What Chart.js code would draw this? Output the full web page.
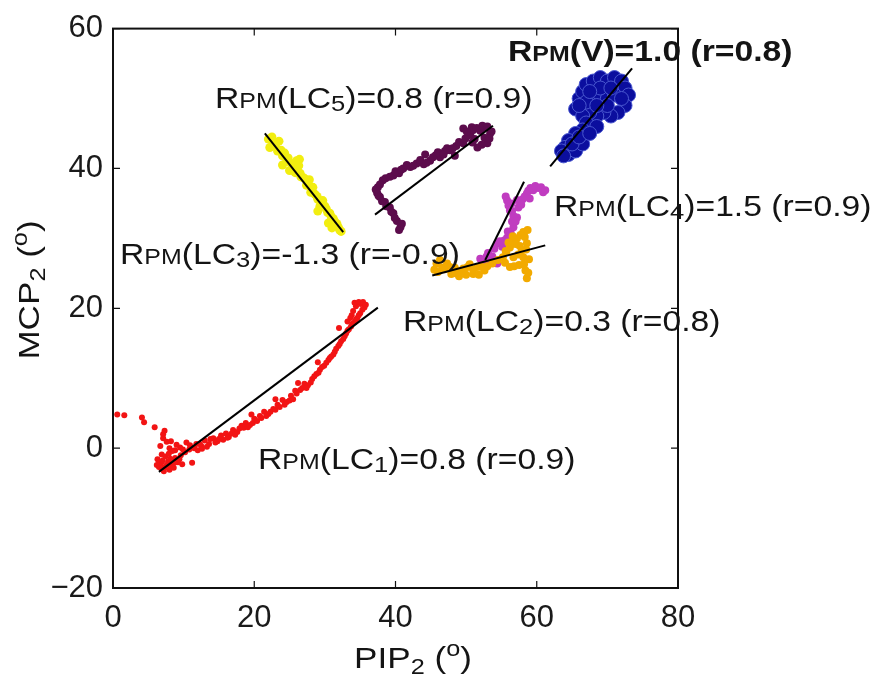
<!DOCTYPE html>
<html>
<head>
<meta charset="utf-8">
<script src="https://cdn.jsdelivr.net/npm/chart.js@4.4.0/dist/chart.umd.min.js"></script>
<style>
  html, body { margin: 0; padding: 0; background: #fff; }
  canvas { display: block; }
</style>
</head>
<body>
<canvas id="chart" width="892" height="679"></canvas>
<script>
// --- Data, PIP2 (x) vs MCP2 (y), degrees ---
const xTicks = [0, 20, 40, 60, 80];
const yTicks = [-20, 0, 20, 40, 60];

const lc1Points = [
  [0.6, 4.8], [1.6, 4.7], [4.1, 4.4], [4.4, 3.7], [5.9, 3.0], [7.1, 2.0], [7.1, 1.4], [8.2, 1.0],
  [6.7, 0.3], [8.0, 0.0], [8.8, -0.3], [6.9, -0.9], [9.5, 0.1], [6.3, -1.6], [6.8, -2.2], [7.3, -2.8],
  [6.5, -2.7], [7.8, -1.9], [8.3, -2.4], [8.8, -1.4], [7.4, -1.2], [9.2, -2.0], [6.9, -3.0], [8.0, -3.1],
  [8.6, -2.8], [9.6, -1.0], [10.9, 0.4], [12.0, -0.3], [11.2, -2.1], [12.5, 0.3], [13.0, 1.1], [13.6, 0.6],
  [14.2, 1.4], [14.8, 1.0], [15.3, 1.8], [16.0, 2.1], [16.4, 1.6], [17.0, 2.6], [17.6, 2.3], [18.2, 3.2],
  [18.8, 3.6], [19.4, 3.3], [20.0, 4.2], [20.8, 4.6], [21.4, 5.2], [22.0, 4.9], [22.7, 5.6], [23.3, 6.2],
  [24.0, 6.9], [24.6, 6.6], [25.2, 7.5], [25.8, 8.2], [26.5, 8.3], [27.1, 9.2], [27.6, 9.0], [28.2, 9.9],
  [28.8, 10.6], [29.3, 11.2], [29.9, 11.8], [30.5, 12.6], [30.9, 13.1], [31.4, 13.8], [31.9, 14.6], [32.3, 15.3],
  [32.8, 16.0], [33.2, 16.8], [33.7, 17.4], [34.2, 18.0], [34.6, 18.6], [35.0, 19.3], [34.0, 19.6], [34.4, 20.3],
  [35.1, 20.6], [35.6, 20.1], [33.8, 19.0], [32.0, 17.2], [29.0, 12.3], [26.2, 9.3], [23.0, 7.0], [19.6, 4.8],
  [10.2, -0.6], [10.8, -0.2], [11.5, 0.0], [11.8, 0.6], [12.6, -0.1], [13.3, 0.2], [13.8, 1.3], [14.5, 0.8],
  [15.0, 1.3], [15.6, 1.2], [16.2, 1.5], [16.8, 2.1], [17.3, 1.9], [17.9, 2.8], [18.5, 2.9], [19.1, 3.0],
  [19.8, 3.6], [20.4, 3.9], [21.0, 4.3], [21.7, 4.6], [22.3, 5.2], [23.0, 5.5], [23.6, 5.9], [24.3, 6.2],
  [25.0, 6.8], [25.5, 7.0], [26.0, 7.8], [26.8, 8.6], [27.4, 8.6], [28.0, 9.4], [28.5, 10.3], [29.1, 10.8],
  [29.6, 11.6], [30.2, 12.2], [30.7, 12.9], [31.2, 13.4], [31.6, 14.2], [32.1, 14.9], [32.6, 15.6], [33.0, 16.4],
  [33.4, 17.0], [33.9, 17.8], [34.4, 18.4], [34.8, 19.0], [35.3, 19.8], [34.2, 20.8], [34.8, 20.9], [35.4, 20.9],
  [35.8, 20.5], [33.6, 18.6], [33.2, 18.1], [6.6, -2.0], [7.0, -1.8], [7.6, -2.4], [8.1, -1.5], [8.7, -2.1],
  [9.4, -1.6], [9.8, -2.3], [7.2, -3.3], [6.2, -2.4], [7.9, -0.8], [8.4, -0.4], [9.0, 0.5], [7.6, 0.9],
  [7.3, 2.5], [9.9, -0.2], [10.4, 0.8], [12.3, 0.6]
];
const lc2Points = [
  [45.8, 26.4], [46.3, 26.9], [47.0, 25.6], [47.7, 25.9], [48.5, 25.0], [49.6, 25.7], [50.5, 26.3], [51.6, 25.9],
  [52.6, 25.4], [53.7, 26.4], [54.5, 26.9], [55.2, 27.3], [55.7, 28.1], [56.2, 28.7], [56.8, 29.6], [57.2, 30.0],
  [58.1, 30.9], [58.6, 29.3], [57.6, 28.9], [56.7, 27.3], [58.1, 27.3], [58.4, 25.4], [58.6, 24.3], [56.2, 25.9],
  [57.5, 26.2], [49.0, 24.6], [51.0, 24.9], [45.5, 25.5], [46.0, 25.2], [46.6, 25.8], [47.3, 26.4], [47.9, 24.9],
  [48.4, 25.8], [49.2, 25.3], [50.0, 24.8], [50.2, 25.9], [51.0, 25.5], [51.8, 24.8], [52.2, 25.9], [53.0, 26.0],
  [55.6, 28.2], [56.0, 29.4], [56.6, 30.3], [57.0, 29.2], [57.7, 30.5], [58.3, 30.2], [58.7, 31.2], [57.9, 28.3],
  [58.5, 28.4], [58.9, 27.0], [57.4, 27.7], [58.2, 26.3], [58.8, 25.1], [55.5, 26.5], [56.8, 26.0]
];
const lc3Points = [
  [22.2, 43.0], [22.7, 43.6], [23.3, 42.5], [24.0, 41.8], [24.6, 41.0], [25.0, 39.7], [26.0, 41.1], [25.6, 40.0],
  [26.5, 39.3], [26.9, 38.7], [27.4, 37.6], [28.3, 37.3], [28.0, 36.6], [28.9, 36.0], [29.7, 35.4], [29.3, 34.6],
  [30.2, 34.2], [30.7, 33.6], [31.2, 32.8], [31.7, 32.1], [32.1, 31.2], [30.5, 32.2], [23.5, 43.9], [27.8, 38.4],
  [22.0, 44.2], [22.5, 44.5], [23.0, 43.2], [23.8, 42.6], [24.3, 42.2], [24.8, 41.5], [25.3, 40.7], [25.8, 39.4],
  [26.3, 40.4], [26.6, 38.8], [27.2, 38.5], [27.6, 37.9], [28.1, 37.0], [28.6, 36.3], [29.0, 35.6], [29.5, 35.0],
  [30.0, 34.6], [30.4, 33.7], [30.9, 33.1], [31.4, 32.4], [31.9, 31.6], [32.3, 31.0], [31.0, 31.5], [29.0, 33.9],
  [26.4, 41.3], [24.0, 40.5]
];
const lc4Points = [
  [52.0, 27.1], [53.1, 27.9], [53.4, 26.9], [54.4, 26.4], [54.4, 29.3], [55.1, 28.8], [55.8, 30.1], [56.3, 30.8],
  [56.7, 31.6], [57.2, 33.0], [56.2, 34.0], [56.7, 33.2], [55.8, 35.4], [57.4, 34.4], [58.0, 35.6], [58.6, 36.4],
  [59.5, 36.9], [60.2, 37.2], [60.9, 36.6], [59.0, 35.7], [52.6, 26.2], [52.3, 26.6], [52.9, 27.4], [53.7, 27.4],
  [54.0, 28.5], [54.8, 29.6], [55.4, 29.7], [55.9, 31.0], [56.5, 32.4], [57.0, 32.4], [56.5, 33.9], [56.0, 34.7],
  [55.6, 36.0], [56.4, 35.0], [57.8, 34.8], [58.3, 36.0], [59.1, 37.2], [59.8, 37.5], [60.6, 37.3], [61.2, 36.9],
  [58.8, 36.8], [57.2, 35.5], [53.9, 26.9]
];
const lc5Points = [
  [40.7, 31.6], [40.2, 32.5], [39.7, 33.6], [39.2, 34.4], [37.8, 35.9], [38.5, 35.2], [37.5, 37.3], [38.2, 38.3],
  [37.4, 36.5], [39.7, 39.0], [40.5, 39.3], [41.1, 40.0], [42.1, 40.2], [43.0, 40.7], [44.0, 40.6], [44.9, 41.1],
  [45.7, 41.9], [46.3, 41.6], [47.0, 42.5], [47.7, 42.6], [48.6, 43.2], [49.6, 43.6], [50.6, 45.0], [49.6, 45.7],
  [51.2, 44.2], [52.0, 45.4], [53.4, 45.0], [53.0, 43.6], [51.6, 43.0], [52.6, 44.4], [50.8, 45.9], [52.8, 45.9],
  [40.5, 31.2], [40.9, 32.1], [39.9, 32.9], [39.4, 33.8], [38.7, 34.6], [38.1, 35.3], [37.6, 36.1], [37.2, 37.0],
  [37.8, 37.7], [38.6, 38.6], [39.2, 38.8], [40.0, 39.6], [40.8, 39.8], [41.6, 40.5], [42.5, 40.4], [43.5, 41.2],
  [44.4, 40.8], [45.3, 41.6], [46.0, 42.3], [46.8, 42.0], [47.3, 42.9], [48.1, 42.9], [49.0, 43.8], [49.9, 44.3],
  [50.3, 44.7], [51.0, 45.5], [51.5, 45.8], [52.3, 46.1], [53.0, 46.0], [53.6, 45.3], [53.3, 44.3], [52.2, 43.4],
  [50.9, 43.7], [50.1, 45.3], [48.4, 41.8], [44.2, 42.0]
];
const vPoints = [
  [65.5, 48.5], [66.0, 50.0], [66.5, 51.0], [67.0, 52.0], [68.0, 52.5], [69.0, 53.0], [70.0, 52.5], [71.0, 53.0],
  [72.0, 52.5], [72.5, 51.5], [73.0, 50.5], [72.5, 49.0], [71.5, 48.0], [70.5, 47.5], [69.5, 48.0], [68.5, 47.5],
  [67.5, 48.0], [66.5, 47.5], [68.0, 50.0], [69.0, 50.5], [70.0, 50.0], [71.0, 50.5], [67.0, 49.5], [70.0, 49.0],
  [72.0, 50.0], [69.0, 51.5], [67.5, 51.0], [70.5, 51.5], [68.5, 49.0], [66.0, 49.0], [67.0, 46.5], [68.5, 46.0],
  [66.5, 45.5], [65.5, 45.0], [64.5, 44.0], [64.0, 43.0], [63.5, 42.5], [64.5, 42.0], [65.5, 42.5], [66.5, 43.5],
  [65.0, 43.5], [66.0, 44.5], [63.8, 41.8], [67.5, 45.0]
];

// regression lines: [start, end]
const lc1Fit = [[6.5, -3.4], [37.5, 20.1]];
const lc2Fit = [[45.2, 24.7], [61.2, 29.0]];
const lc3Fit = [[21.5, 45.0], [32.6, 30.9]];
const lc4Fit = [[52.7, 26.9], [58.2, 38.1]];
const lc5Fit = [[37.1, 33.4], [53.8, 46.1]];
const vFit = [[61.9, 40.3], [73.5, 54.3]];

const toXY = arr => arr.map(p => ({ x: p[0], y: p[1] }));

function dots(data, color, r) {
  return { type: 'scatter', data: toXY(data), backgroundColor: color, borderColor: color,
           pointRadius: r, pointHoverRadius: r, borderWidth: 0, order: 2 };
}
function fit(data) {
  return { type: 'line', data: toXY(data), borderColor: '#000', borderWidth: 2,
           pointRadius: 0, fill: false, tension: 0, order: 0 };
}

const FONT = '"Liberation Sans", Arial, sans-serif';
const STRETCH = 1.17;   // text in the figure is wider than plain Arial

// draw text made of parts: [text, sizeScale, shiftDown]
function partsWidth(ctx, parts, size, bold) {
  let w = 0;
  parts.forEach(function (p) {
    ctx.font = (bold ? 'bold ' : '') + (size * p[1]) + 'px ' + FONT;
    w += ctx.measureText(p[0]).width;
  });
  return w * STRETCH;
}
function richText(ctx, x, y, parts, size, bold) {
  ctx.save();
  ctx.translate(x, y);
  ctx.scale(STRETCH, 1);
  let cx = 0;
  parts.forEach(function (p) {
    ctx.font = (bold ? 'bold ' : '') + (size * p[1]) + 'px ' + FONT;
    ctx.fillText(p[0], cx, p[2] || 0);
    cx += ctx.measureText(p[0]).width;
  });
  ctx.restore();
}

const annotations = [
  { x: 508, y: 61, bold: true, parts: [['R', 1], ['PM', 0.74], ['(V)=1.0 (r=0.8)', 1]] },
  { x: 215, y: 108, parts: [['R', 1], ['PM', 0.74], ['(LC', 1], ['5', 0.76, 3], [')=0.8 (r=0.9)', 1]] },
  { x: 554, y: 216, parts: [['R', 1], ['PM', 0.74], ['(LC', 1], ['4', 0.76, 3], [')=1.5 (r=0.9)', 1]] },
  { x: 120, y: 264, parts: [['R', 1], ['PM', 0.74], ['(LC', 1], ['3', 0.76, 3], [')=-1.3 (r=-0.9)', 1]] },
  { x: 403, y: 331, parts: [['R', 1], ['PM', 0.74], ['(LC', 1], ['2', 0.76, 3], [')=0.3 (r=0.8)', 1]] },
  { x: 258, y: 469, parts: [['R', 1], ['PM', 0.74], ['(LC', 1], ['1', 0.76, 3], [')=0.8 (r=0.9)', 1]] }
];

const framePlugin = {
  id: 'frame',
  afterDraw(chart) {
    const ctx = chart.ctx;
    const a = chart.chartArea;
    const xs = chart.scales.x, ys = chart.scales.y;
    ctx.save();
    // box
    ctx.strokeStyle = '#111';
    ctx.lineWidth = 2;
    ctx.strokeRect(a.left, a.top, a.right - a.left, a.bottom - a.top);
    // inward ticks
    ctx.lineWidth = 1.2;
    ctx.beginPath();
    xTicks.forEach(function (v) {
      const px = xs.getPixelForValue(v);
      ctx.moveTo(px, a.bottom); ctx.lineTo(px, a.bottom - 7);
      ctx.moveTo(px, a.top); ctx.lineTo(px, a.top + 7);
    });
    yTicks.forEach(function (v) {
      const py = ys.getPixelForValue(v);
      ctx.moveTo(a.left, py); ctx.lineTo(a.left + 7, py);
      ctx.moveTo(a.right, py); ctx.lineTo(a.right - 7, py);
    });
    ctx.stroke();

    ctx.fillStyle = '#141414';
    ctx.textBaseline = 'alphabetic';
    ctx.textAlign = 'left';
    // axis titles
    const xt = [['PIP', 1], ['2', 0.72, 6], [' (', 1], ['o', 0.72, -12], [')', 1]];
    let w = partsWidth(ctx, xt, 30, false);
    richText(ctx, 413 - w / 2, 668, xt, 30, false);

    ctx.save();
    ctx.translate(39, 290);
    ctx.rotate(-Math.PI / 2);
    const yt = [['MCP', 1], ['2', 0.72, 6], [' (', 1], ['o', 0.72, -12], [')', 1]];
    w = partsWidth(ctx, yt, 30, false);
    richText(ctx, -w / 2, 0, yt, 30, false);
    ctx.restore();

    // annotations
    annotations.forEach(function (t) {
      richText(ctx, t.x, t.y, t.parts, 28.8, t.bold);
    });
    ctx.restore();
  }
};

new Chart(document.getElementById('chart'), {
  type: 'scatter',
  data: {
    datasets: [
      fit(lc1Fit), fit(lc2Fit), fit(lc3Fit), fit(lc4Fit), fit(lc5Fit), fit(vFit),
      dots(lc1Points, '#f21414', 3),
      dots(lc2Points, '#f2aa00', 4),
      dots(lc3Points, '#f2ee10', 4.5),
      dots(lc4Points, '#c03cc0', 4),
      dots(lc5Points, '#5c0c4c', 4),
      { type: 'scatter', data: toXY(vPoints), backgroundColor: '#0b0e9e', borderColor: '#4a58d0',
        borderWidth: 1, pointRadius: 7, pointHoverRadius: 7, order: 1 }
    ]
  },
  options: {
    responsive: false,
    animation: false,
    layout: { padding: { top: 28, right: 214, bottom: 0, left: 0 } },
    plugins: { legend: { display: false }, tooltip: { enabled: false } },
    scales: {
      x: {
        type: 'linear', min: 0, max: 80,
        afterBuildTicks: function (s) { s.ticks = xTicks.map(v => ({ value: v })); },
        afterFit: function (s) { s.height = 91; },
        grid: { display: false, drawTicks: false },
        border: { display: false },
        ticks: { padding: 12, color: '#1a1a1a', font: { family: FONT, size: 31 } }
      },
      y: {
        type: 'linear', min: -20, max: 60,
        afterBuildTicks: function (s) { s.ticks = yTicks.map(v => ({ value: v })); },
        afterFit: function (s) { s.width = 113; },
        grid: { display: false, drawTicks: false },
        border: { display: false },
        ticks: {
          padding: 10, color: '#1a1a1a', font: { family: FONT, size: 31 },
          callback: function (v) { return v < 0 ? '\u2212' + Math.abs(v) : String(v); }
        }
      }
    }
  },
  plugins: [framePlugin]
});
</script>
</body>
</html>
